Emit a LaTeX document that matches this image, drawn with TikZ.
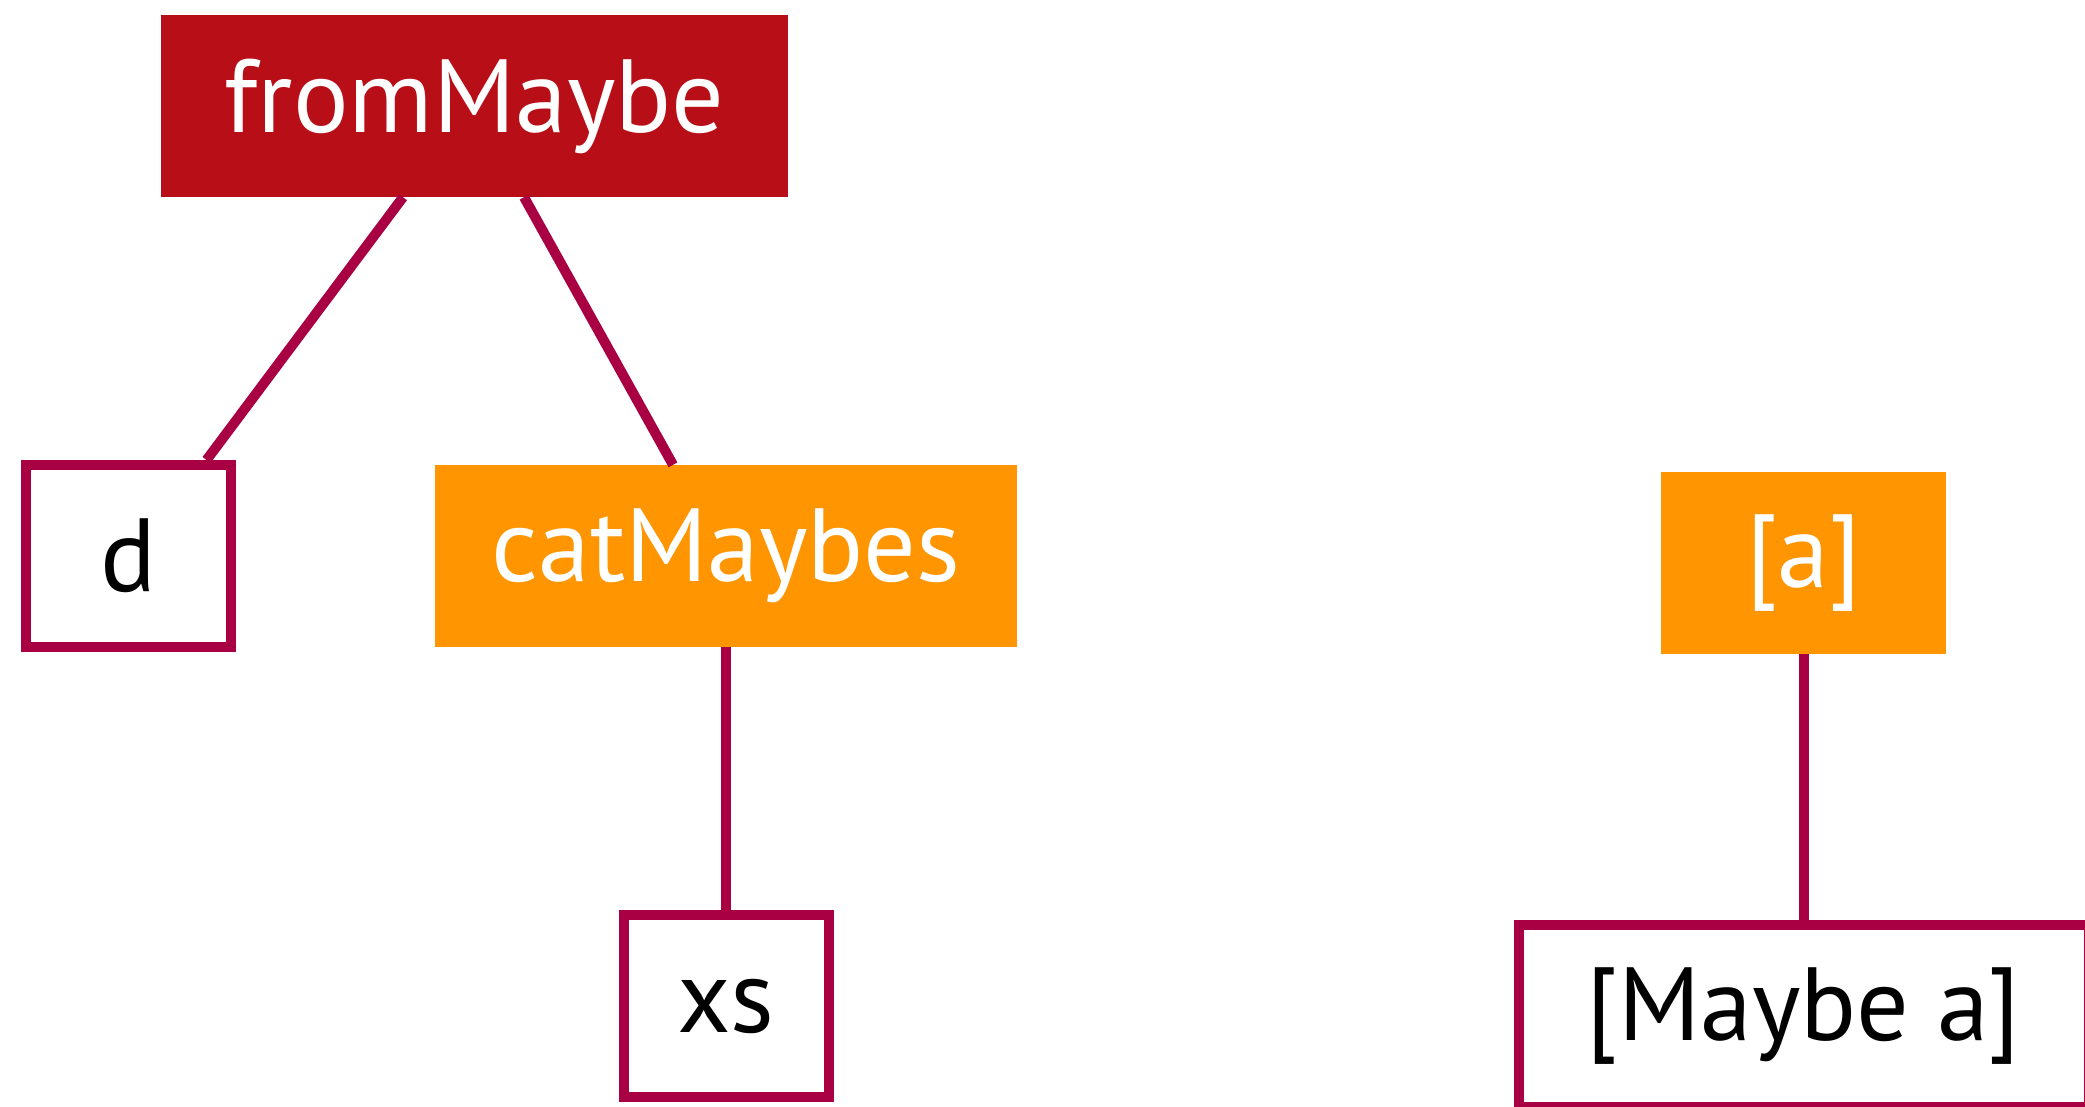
\documentclass[tikz,border=0pt]{standalone}
\usepackage{fontspec}
\setmainfont{PT Sans}
\usetikzlibrary{positioning, calc}
\definecolor{fnred}{RGB}{184,14,24}
\definecolor{argorange}{RGB}{255,149,0}
\definecolor{edgewine}{RGB}{168,0,66}
\tikzset{
    fn_box/.style={
        rectangle, fill=fnred, text=white, inner sep=0pt,
        minimum height=182pt, font=\fontsize{104}{120}\selectfont
    },
    arg_box/.style={
        rectangle, fill=argorange, text=white, inner sep=0pt,
        minimum height=182pt, font=\fontsize{104}{120}\selectfont
    },
    leaf_box/.style={
        rectangle, draw=edgewine, line width=10pt, fill=white, text=black, inner sep=0pt,
        minimum height=182pt, font=\fontsize{104}{120}\selectfont
    },
    tree_edge/.style={
        draw=edgewine, line width=10pt
    }
}

\begin{document}
\begin{tikzpicture}[x=1pt, y=-1pt]
    \useasboundingbox (0,0) rectangle (2085,1106);

    % --- Left tree: fromMaybe d (catMaybes xs) ---
    \node[fn_box, minimum width=627pt] (fromMaybe) at (474.5,106) {fromMaybe};

    \node[leaf_box, minimum width=205pt] (d) at (128.5,556) {d};

    \node[arg_box, minimum width=582pt] (catMaybes) at (726,556) {catMaybes};

    \node[leaf_box, minimum width=205pt] (xs) at (726,1006) {xs};

    % --- Right tree: type of catMaybes ---
    \node[arg_box, minimum width=285pt] (lista) at (1803.5,563) {[a]};

    \node[leaf_box, minimum width=570pt] (listmaybe) at (1803.5,1016) {[Maybe a]};

    % --- Edges ---
    \draw[tree_edge] ($(fromMaybe.south west)!0.386!(fromMaybe.south east)$) -- ($(d.north west)!0.863!(d.north east)$);
    \draw[tree_edge] ($(fromMaybe.south west)!0.579!(fromMaybe.south east)$) -- ($(catMaybes.north west)!0.409!(catMaybes.north east)$);
    \draw[tree_edge] (catMaybes.south) -- (xs.north);
    \draw[tree_edge] (lista.south) -- (lista.south |- listmaybe.north);

\end{tikzpicture}
\end{document}
